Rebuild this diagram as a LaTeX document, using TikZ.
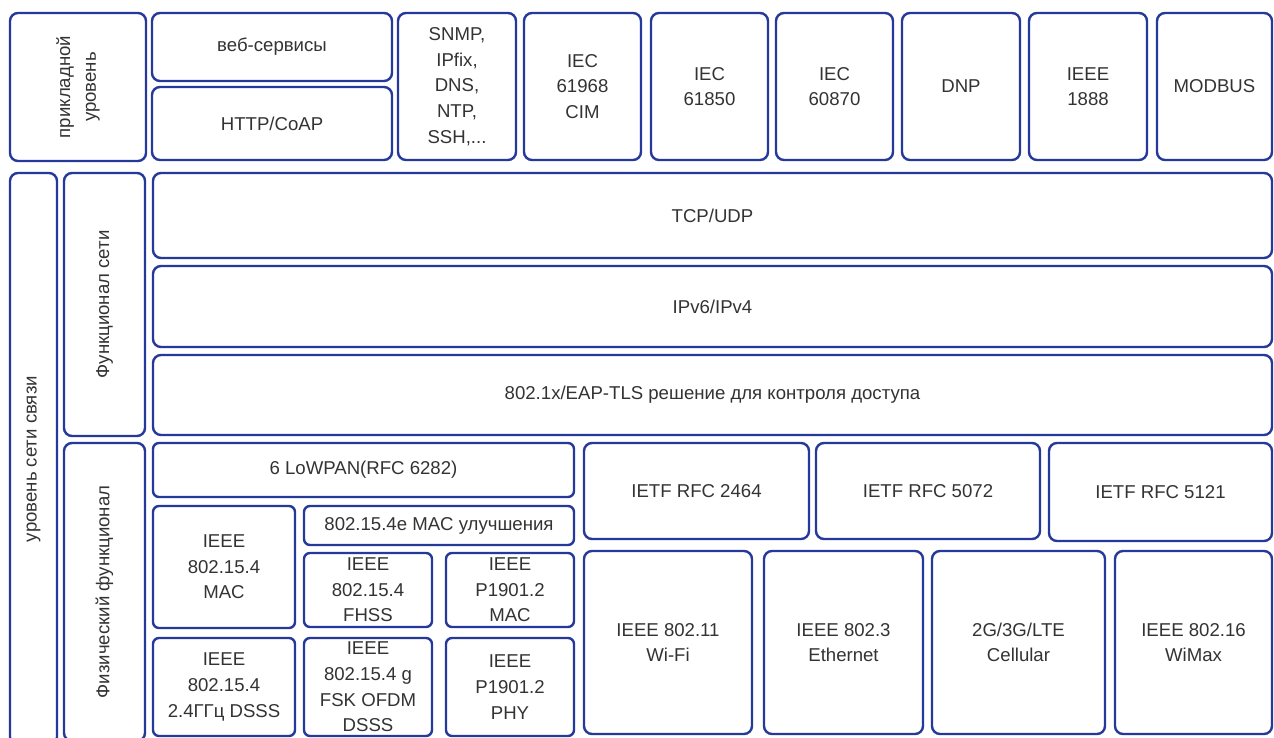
\documentclass[tikz,border=0pt]{standalone}
\usepackage{fontspec}
\setmainfont{Liberation Sans}
\definecolor{layerBlue}{HTML}{25399A}
\definecolor{layerText}{HTML}{333333}

\begin{document}
\begin{tikzpicture}[
    x=0.5pt, y=-0.5pt,
    block/.style={
        rectangle, rounded corners=4pt, line width=1.2pt,
        draw=layerBlue, fill=white, text=layerText,
        inner sep=0pt, align=center,
        font=\fontsize{9.3}{12.8}\selectfont
    },
    smallBlock/.style={block, rounded corners=3pt},
    sideBlock/.style={block, rotate=90},
    topBlock/.style={block, minimum height=73.5pt}
]
    \useasboundingbox (0,0) rectangle (1274,738);
    \clip (0,0) rectangle (1274,738);

    % --- 1. Application layer ---
    \node[sideBlock, minimum width=74pt, minimum height=68pt] (app) at (78,87) {прикладной\\уровень};
    \node[block, minimum width=120pt, minimum height=34pt] (web) at (272,47) {веб-сервисы};
    \node[block, minimum width=120pt, minimum height=36.5pt] (http) at (272,123.5) {HTTP/CoAP};
    \node[topBlock, minimum width=59pt] (snmp) at (457,86.5) {SNMP,\\IPfix,\\DNS,\\NTP,\\SSH,...};
    \node[topBlock, minimum width=58.5pt] (cim) at (582.5,86.5) {IEC\\61968\\CIM};
    \node[topBlock, minimum width=58.5pt] (iecA) at (709.5,86.5) {IEC\\61850};
    \node[topBlock, minimum width=58.5pt] (iecB) at (834.5,86.5) {IEC\\60870};
    \node[topBlock, minimum width=59pt] (dnp) at (961,86.5) {DNP};
    \node[topBlock, minimum width=59pt] (ieee1888) at (1088,86.5) {IEEE\\1888};
    \node[topBlock, minimum width=57.5pt] (modbus) at (1214.5,86.5) {MODBUS};

    % --- 2. Network functions ---
    \node[sideBlock, minimum width=286pt, minimum height=23.5pt] (link) at (33.5,459) {уровень сети связи};
    \node[sideBlock, minimum width=131.5pt, minimum height=40.5pt] (netFunc) at (104.5,304.5) {Функционал сети};
    \node[block, minimum width=559.5pt, minimum height=42.5pt] (tcp) at (712.5,215.5) {TCP/UDP};
    \node[block, minimum width=559.5pt, minimum height=40.5pt] (ip) at (712.5,306.5) {IPv6/IPv4};
    \node[block, minimum width=559.5pt, minimum height=40pt] (eap) at (712.5,395) {802.1x/EAP-TLS решение для контроля доступа};

    % --- 3. Physical functions ---
    \node[sideBlock, minimum width=149pt, minimum height=40.5pt] (phyFunc) at (104.5,592) {Физический функционал};
    \node[smallBlock, minimum width=210.5pt, minimum height=27pt] (lowpan) at (363.5,470) {6 LoWPAN(RFC 6282)};
    \node[smallBlock, minimum width=71pt, minimum height=61pt] (mac154) at (224,567) {IEEE\\802.15.4\\MAC};
    \node[smallBlock, minimum width=135pt, minimum height=19.5pt] (mac154e) at (439,525.5) {802.15.4e MAC улучшения};
    \node[smallBlock, minimum width=64pt, minimum height=37pt] (fhss) at (368,590) {IEEE\\802.15.4\\FHSS};
    \node[smallBlock, minimum width=64pt, minimum height=37pt] (plcMac) at (510,590) {IEEE\\P1901.2\\MAC};
    \node[smallBlock, minimum width=71pt, minimum height=49pt] (dsss) at (224,687) {IEEE\\802.15.4\\2.4ГГц DSSS};
    \node[smallBlock, minimum width=64pt, minimum height=49pt] (ofdm) at (368,687) {IEEE\\802.15.4 g\\FSK OFDM\\DSSS};
    \node[smallBlock, minimum width=64pt, minimum height=49pt] (plcPhy) at (510,687) {IEEE\\P1901.2\\PHY};

    \node[block, minimum width=112.5pt, minimum height=48pt] (rfcA) at (696.5,491) {IETF RFC 2464};
    \node[block, minimum width=112pt, minimum height=48pt] (rfcB) at (928,491) {IETF RFC 5072};
    \node[block, minimum width=111.5pt, minimum height=49pt] (rfcC) at (1160.5,492) {IETF RFC 5121};
    \node[block, minimum width=84pt, minimum height=91.5pt] (wifi) at (668,642.5) {IEEE 802.11\\Wi-Fi};
    \node[block, minimum width=79.5pt, minimum height=91.5pt] (ether) at (843.5,642.5) {IEEE 802.3\\Ethernet};
    \node[block, minimum width=86.5pt, minimum height=91.5pt] (cell) at (1018.5,642.5) {2G/3G/LTE\\Cellular};
    \node[block, minimum width=78.5pt, minimum height=91.5pt] (wimax) at (1193.5,642.5) {IEEE 802.16\\WiMax};
\end{tikzpicture}
\end{document}
